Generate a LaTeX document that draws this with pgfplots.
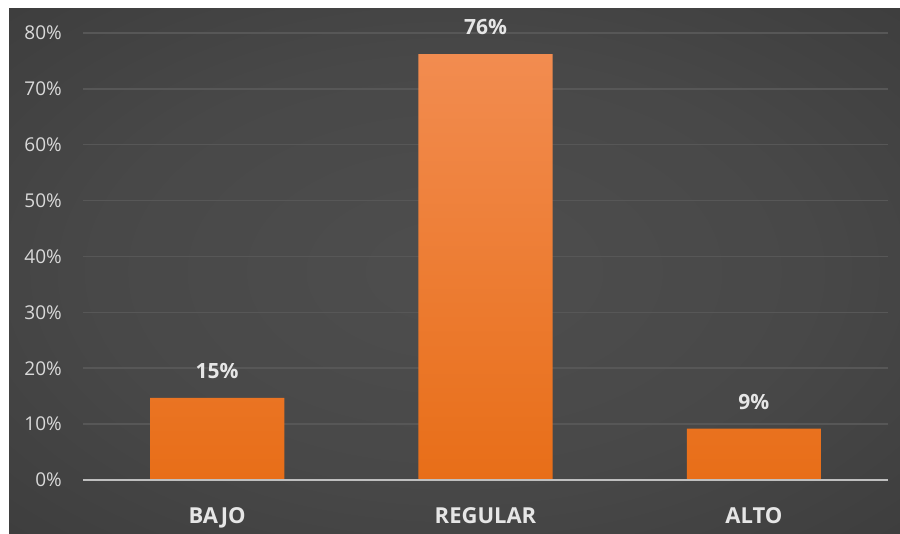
\documentclass[border=0pt]{standalone}
\usepackage{pgfplots}
\pgfplotsset{compat=1.18}
\usepackage{fontspec}
\setmainfont{Open Sans}
\definecolor{bgin}{HTML}{4E4E4E}
\definecolor{bgout}{HTML}{262626}
\definecolor{bartop}{HTML}{F28C50}
\definecolor{barbot}{HTML}{E86E18}
\definecolor{ticktxt}{HTML}{D9D9D9}
\definecolor{lbltxt}{HTML}{E6E6E6}
\definecolor{gridc}{HTML}{575757}
\definecolor{axisc}{HTML}{BFBFBF}
\pgfdeclareradialshading{bgshade}{\pgfpoint{0bp}{0bp}}{color(0bp)=(bgin); color(20bp)=(bgin!85!bgout); color(72bp)=(bgout)}
\begin{document}
\begin{tikzpicture}[x=1pt,y=1pt]
\useasboundingbox (0,0) rectangle (900,534);
\fill[white] (0,0) rectangle (900,534);
\shade[shading=bgshade] (9,0) rectangle (900,525);
\begin{axis}[
  at={(83pt,54pt)}, anchor=south west,
  scale only axis, width=805pt, height=447pt,
  xmin=-0.5, xmax=2.5, ymin=0, ymax=80,
  axis line style={draw=none},
  ytick={0,10,...,80},
  yticklabels={0\%,10\%,20\%,30\%,40\%,50\%,60\%,70\%,80\%},
  xtick={0,1,2},
  xticklabels={BAJO,REGULAR,ALTO},
  major tick length=0pt,
  ymajorgrids, grid style={gridc, line width=1.5pt},
  yticklabel style={font=\fontsize{19}{22}\selectfont, text=ticktxt, inner sep=0pt, anchor=east, xshift=-21pt},
  xticklabel style={font=\fontsize{22}{26}\selectfont\bfseries, text=lbltxt, inner sep=0pt, anchor=north, yshift=-27pt},
  clip=false,
  point meta=explicit symbolic,
  nodes near coords={\pgfplotspointmeta\%},
  nodes near coords style={font=\fontsize{21}{25}\selectfont\bfseries, text=lbltxt, inner sep=0pt, anchor=south, yshift=19pt},
]
\addplot[ybar, bar width=0.5, draw=none, top color=bartop, bottom color=barbot]
  coordinates {(0,14.7)[15] (1,76.2)[76] (2,9.2)[9]};
\draw[axisc, line width=2pt] (axis cs:-0.5,0) -- (axis cs:2.5,0);
\end{axis}
\end{tikzpicture}
\end{document}
